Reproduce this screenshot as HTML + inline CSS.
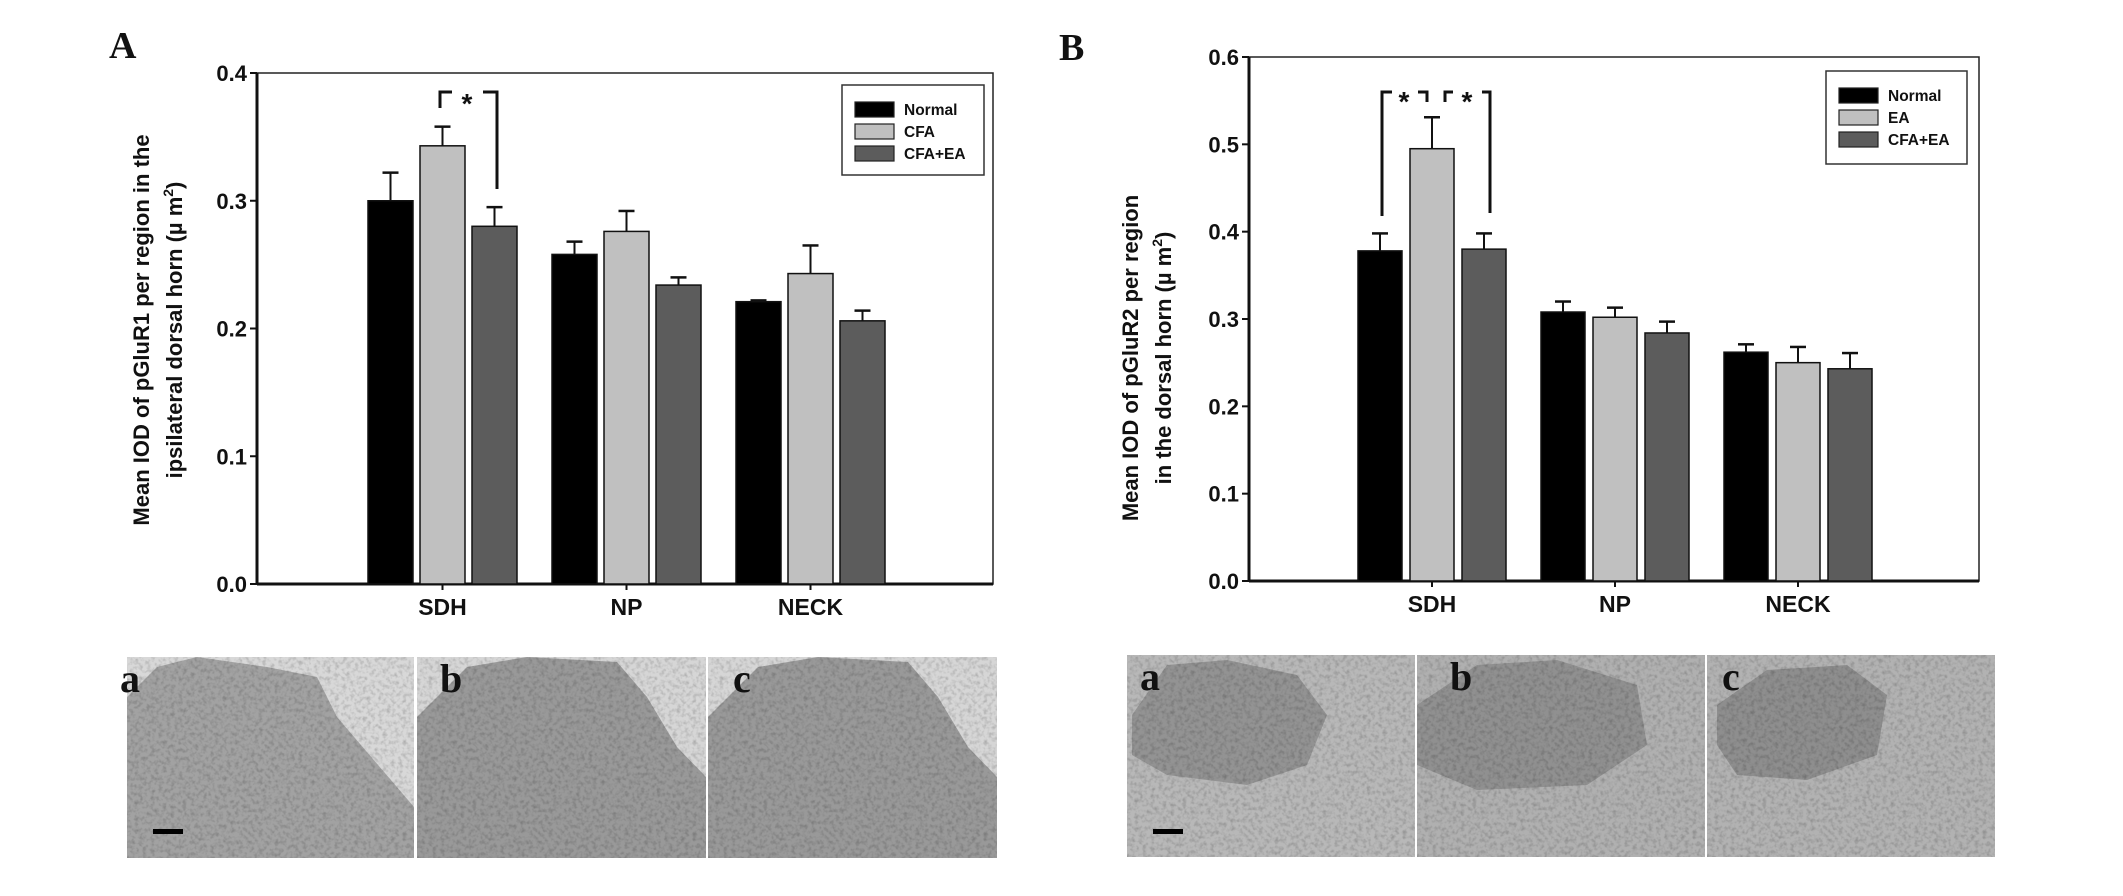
<!DOCTYPE html>
<html><head><meta charset="utf-8"><style>
html,body{margin:0;padding:0;background:#fff;}
svg{display:block;}
text{font-family:"Liberation Sans",Arial,sans-serif;font-weight:bold;fill:#111;}
.serif{font-family:"Liberation Serif","Times New Roman",serif;font-weight:bold;}
</style></head><body>
<svg id="fig" width="2123" height="896" viewBox="0 0 2123 896" xmlns="http://www.w3.org/2000/svg">
<defs>
<filter id="tex" x="0" y="0" width="100%" height="100%">
<feTurbulence type="fractalNoise" baseFrequency="0.25" numOctaves="3" seed="3" result="n"/>
<feColorMatrix type="matrix" values="0 0 0 0 0  0 0 0 0 0  0 0 0 0 0  0 0 0 -1.3 0.75"/>
</filter>
</defs>
<g id="chartA"></g>
<g id="chartB"></g>
<g id="imgs"></g>
</svg>
<script>
// ---- Chart A data ----
const categoriesA = ["SDH", "NP", "NECK"];
const seriesNamesA = ["Normal", "CFA", "CFA+EA"];
const normalA = [0.300, 0.258, 0.221];
const cfaA = [0.343, 0.276, 0.243];
const cfaEaA = [0.280, 0.234, 0.206];
const normalErrA = [0.022, 0.010, 0.001];
const cfaErrA = [0.015, 0.016, 0.022];
const cfaEaErrA = [0.015, 0.006, 0.008];
const yTicksA = [0.0, 0.1, 0.2, 0.3, 0.4];
// ---- Chart B data ----
const categoriesB = ["SDH", "NP", "NECK"];
const seriesNamesB = ["Normal", "EA", "CFA+EA"];
const normalB = [0.378, 0.308, 0.262];
const eaB = [0.495, 0.302, 0.250];
const cfaEaB = [0.380, 0.284, 0.243];
const normalErrB = [0.020, 0.012, 0.009];
const eaErrB = [0.036, 0.011, 0.018];
const cfaEaErrB = [0.018, 0.013, 0.018];
const yTicksB = [0.0, 0.1, 0.2, 0.3, 0.4, 0.5, 0.6];

const NS = "http://www.w3.org/2000/svg";
const fills = ["#000000", "#c0c0c0", "#5c5c5c"];
function mk(tag, attrs, parent) {
  const e = document.createElementNS(NS, tag);
  for (const k in attrs) e.setAttribute(k, attrs[k]);
  parent.appendChild(e);
  return e;
}

function drawChart(g, cfg) {
  const yScale = v => cfg.bottom - (v - cfg.ymin) / (cfg.ymax - cfg.ymin) * (cfg.bottom - cfg.top);
  const barX = (ci, si) => cfg.firstBar + ci * cfg.groupStep + si * cfg.barStep;
  const frame = mk('rect', {x: cfg.left, y: cfg.top, width: cfg.right - cfg.left, height: cfg.bottom - cfg.top, fill: 'none', stroke: '#222', 'stroke-width': 1.5}, g);
  
  
  const yax = mk('line', {x1: cfg.left, y1: cfg.top, x2: cfg.left, y2: cfg.bottom, stroke: '#111', 'stroke-width': 3}, g);
  
  
  const xax = mk('line', {x1: cfg.left, y1: cfg.bottom, x2: cfg.right, y2: cfg.bottom, stroke: '#111', 'stroke-width': 3}, g);
  
  
  cfg.yTicks.forEach(t => {
    const y = yScale(t);
    const tk = mk('line', {x1: cfg.left - 7, y1: y, x2: cfg.left, y2: y, stroke: '#111', 'stroke-width': 2}, g);
    
    
    const tl = mk('text', {x: cfg.left - 10, y: y + 8, 'text-anchor': 'end', 'font-size': 22}, g);
    tl.textContent = t.toFixed(1);
    
    
  });
  cfg.series.forEach((vals, si) => {
    vals.forEach((v, ci) => {
      const x = barX(ci, si);
      const y = yScale(v);
      const ye = yScale(v + cfg.errs[si][ci]);
      const cx = x + cfg.barW / 2;
      const el = mk('line', {x1: cx, y1: y, x2: cx, y2: ye, stroke: '#111', 'stroke-width': 2}, g);
      
      
      const ec = mk('line', {x1: cx - 8, y1: ye, x2: cx + 8, y2: ye, stroke: '#111', 'stroke-width': 2.5}, g);
      
      
      const r = mk('rect', {x: x, y: y, width: cfg.barW, height: cfg.bottom - y, fill: fills[si], stroke: '#111', 'stroke-width': 1.5}, g);
      
      
    });
  });
  cfg.cats.forEach((c, ci) => {
    const cx = barX(ci, 1) + cfg.barW / 2;
    const tk = mk('line', {x1: cx, y1: cfg.bottom, x2: cx, y2: cfg.bottom + 6, stroke: '#111', 'stroke-width': 2}, g);
    
    
    const tl = mk('text', {x: cx, y: cfg.bottom + 31, 'text-anchor': 'middle', 'font-size': 23}, g);
    tl.textContent = c;
    
    
  });
  const lg = mk('g', {}, g);
  
  
  mk('rect', {x: cfg.leg[0], y: cfg.leg[1], width: cfg.leg[2], height: cfg.leg[3], fill: '#fff', stroke: '#333', 'stroke-width': 1.5}, lg);
  cfg.names.forEach((n, si) => {
    const ey = cfg.leg[1] + 24 + si * 22;
    const sw = mk('rect', {x: cfg.leg[0] + 13, y: ey - 7, width: 39, height: 15, fill: fills[si], stroke: '#222', 'stroke-width': 1.2}, lg);
    
    
    const t = mk('text', {x: cfg.leg[0] + 62, y: ey + 6, 'font-size': 15.5}, lg);
    t.textContent = n;
    
    
  });
  const yt = mk('text', {transform: 'translate(' + cfg.titleX + ',' + cfg.titleY + ') rotate(-90)', 'text-anchor': 'middle', 'font-size': 22}, g);
  
  
  const t1 = mk('tspan', {x: 0, dy: 0}, yt); t1.textContent = cfg.title[0];
  const t2 = mk('tspan', {x: 0, dy: 33}, yt); t2.textContent = cfg.title[1];
  const t3 = mk('tspan', {dy: -9, 'font-size': 14}, yt); t3.textContent = '2';
  const t4 = mk('tspan', {dy: 9}, yt); t4.textContent = ')';
  const pl = mk('text', {x: cfg.letter[0], y: cfg.letter[1], 'font-size': 38, class: 'serif'}, g);
  pl.textContent = cfg.letter[2];
  
  
  return {yScale, barX};
}

function bracket(g, pts, sx, sy) {
  const p = mk('polyline', {points: pts, fill: 'none', stroke: '#111', 'stroke-width': 3}, g);
  
  
  if (sx) {
    const s = mk('text', {x: sx, y: sy, 'text-anchor': 'middle', 'font-size': 28}, g);
    s.textContent = '*';
    
    
  }
}

const gA = document.getElementById('chartA');
drawChart(gA, {
  left: 257, right: 993, top: 73, bottom: 584, ymin: 0, ymax: 0.4,
  yTicks: yTicksA, cats: categoriesA, names: seriesNamesA,
  series: [normalA, cfaA, cfaEaA], errs: [normalErrA, cfaErrA, cfaEaErrA],
  firstBar: 368, groupStep: 184, barStep: 52, barW: 45,
  leg: [842, 85, 142, 90], titleX: 149, titleY: 330,
  title: ['Mean IOD of pGluR1 per region in the', 'ipsilateral dorsal horn (\u00b5 m'],
  letter: [109, 58, 'A']
});
bracket(gA, '440,108 440,92 452,92', 467, 113);
bracket(gA, '483,92 497,92 497,189', 0, 0);

const gB = document.getElementById('chartB');
drawChart(gB, {
  left: 1249, right: 1979, top: 57, bottom: 581, ymin: 0, ymax: 0.6,
  yTicks: yTicksB, cats: categoriesB, names: seriesNamesB,
  series: [normalB, eaB, cfaEaB], errs: [normalErrB, eaErrB, cfaEaErrB],
  firstBar: 1358, groupStep: 183, barStep: 52, barW: 44,
  leg: [1826, 71, 141, 93], titleX: 1138, titleY: 358,
  title: ['Mean IOD of pGluR2 per region', 'in the  dorsal horn (\u00b5 m'],
  letter: [1059, 60, 'B']
});
bracket(gB, '1382,216 1382,92 1392,92', 1404, 111);
bracket(gB, '1418,92 1427,92 1427,102', 0, 0);
bracket(gB, '1445,102 1445,92 1453,92', 1467, 111);
bracket(gB, '1482,92 1490,92 1490,213', 0, 0);

const gi = document.getElementById('imgs');
const panels = [
  {x:127,y:657,w:287,h:201,bg:'#d8d8d8',t:'#a2a2a2',poly:'0,40 30,10 70,0 140,10 190,20 210,60 287,150 287,201 0,201',lab:'a',lx:120,ly:692},
  {x:417,y:657,w:289,h:201,bg:'#d6d6d6',t:'#999999',poly:'0,60 50,10 110,0 200,5 230,40 260,90 289,120 289,201 0,201',lab:'b',lx:440,ly:692},
  {x:708,y:657,w:289,h:201,bg:'#d6d6d6',t:'#999999',poly:'0,60 50,10 110,0 200,5 230,40 260,90 289,120 289,201 0,201',lab:'c',lx:733,ly:692},
  {x:1127,y:655,w:288,h:202,bg:'#b8b8b8',t:'#939393',poly:'5,60 40,10 100,5 170,20 200,60 180,110 120,130 40,120 5,100',lab:'a',lx:1140,ly:690},
  {x:1417,y:655,w:288,h:202,bg:'#b0b0b0',t:'#909090',poly:'0,50 60,10 140,5 220,30 230,90 170,130 60,135 0,110',lab:'b',lx:1450,ly:690},
  {x:1707,y:655,w:288,h:202,bg:'#b2b2b2',t:'#8e8e8e',poly:'10,50 60,15 140,10 180,40 170,100 100,125 30,120 10,90',lab:'c',lx:1722,ly:690}
];
panels.forEach((p, i) => {
  const g = mk('g', {transform: 'translate(' + p.x + ',' + p.y + ')'}, gi);
  
  
  mk('rect', {x: 0, y: 0, width: p.w, height: p.h, fill: p.bg}, g);
  mk('polygon', {points: p.poly, fill: p.t}, g);
  mk('rect', {x: 0, y: 0, width: p.w, height: p.h, fill: '#000', filter: 'url(#tex)', opacity: 0.3}, g);
  const l = mk('text', {x: p.lx, y: p.ly, 'font-size': 40, class: 'serif'}, gi);
  l.textContent = p.lab;
  
  
});
[[153,831],[1153,831]].forEach(s => {
  const b = mk('rect', {x: s[0], y: s[1] - 2, width: 30, height: 5, fill: '#000'}, gi);
  
  
});
</script>
</body></html>
